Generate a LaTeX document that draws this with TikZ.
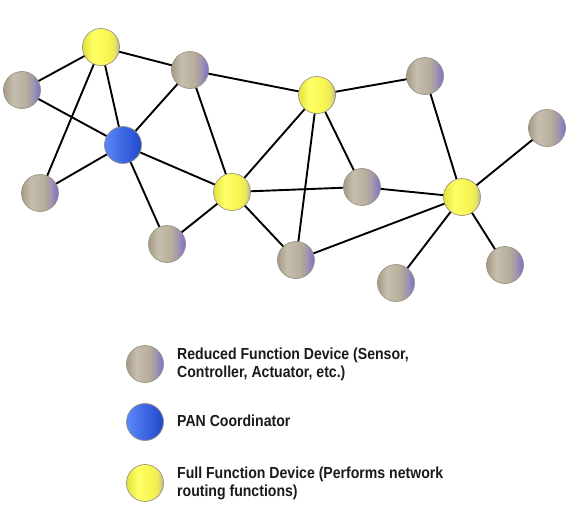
\documentclass[tikz,border=0pt]{standalone}
\usepackage{fontspec}
\newfontfamily\legendfont[FakeStretch=0.88]{Liberation Sans}
\definecolor{tanL}{HTML}{A69A86}
\definecolor{tanM}{HTML}{C6BEAE}
\definecolor{tanN}{HTML}{B8AE9C}
\definecolor{tanP}{HTML}{A096AC}
\definecolor{tanR}{HTML}{7A6CD0}
\definecolor{yelL}{HTML}{E2E23A}
\definecolor{yelM}{HTML}{FFFF66}
\definecolor{yelN}{HTML}{F6F450}
\definecolor{yelR}{HTML}{BAB290}
\definecolor{bluL}{HTML}{5A88F8}
\definecolor{bluM}{HTML}{3A68EE}
\definecolor{bluR}{HTML}{2048CC}
\definecolor{rim}{HTML}{9A9282}
\definecolor{txt}{HTML}{1A1A1A}
\pgfdeclarehorizontalshading{rfdshade}{100bp}{color(0bp)=(tanL); color(25bp)=(tanL); color(38bp)=(tanM); color(55bp)=(tanN); color(65bp)=(tanP); color(75bp)=(tanR); color(100bp)=(tanR)}
\pgfdeclarehorizontalshading{ffdshade}{100bp}{color(0bp)=(yelL); color(25bp)=(yelL); color(40bp)=(yelM); color(60bp)=(yelN); color(68bp)=(yelN!80!yelR); color(75bp)=(yelR); color(100bp)=(yelR)}
\tikzset{
  ball/.style={circle, minimum size=37pt, inner sep=0pt, draw=rim, line width=0.7pt},
  rfd/.style={ball, shading=rfdshade},
  ffd/.style={ball, shading=ffdshade},
  pan/.style={ball, shading=axis, shading angle=135, left color=bluL, middle color=bluM, right color=bluR},
  link/.style={line width=1.9pt, black},
  legtext/.style={anchor=west, align=left, text=txt, font=\legendfont\bfseries\fontsize{16}{18}\selectfont, inner sep=0pt}
}
\begin{document}
\begin{tikzpicture}[x=1pt, y=-1pt]
\useasboundingbox (0,0) rectangle (585,515);
% coordinates of nodes
\coordinate (pY1) at (101,47);
\coordinate (pG1) at (22,90);
\coordinate (pG2) at (190,70);
\coordinate (pB)  at (123,145);
\coordinate (pG3) at (40,193);
\coordinate (pY2) at (232,192);
\coordinate (pG4) at (167,244);
\coordinate (pY3) at (317,95);
\coordinate (pG5) at (425,76);
\coordinate (pG6) at (362,187);
\coordinate (pG7) at (296,260);
\coordinate (pY4) at (462,197);
\coordinate (pG8) at (547,128);
\coordinate (pG9) at (396,283);
\coordinate (pG10) at (505,265);
% links (drawn first, below balls)
\foreach \a/\b in {pY1/pG1, pY1/pG2, pY1/pB, pY1/pG3, pG1/pB, pG2/pB, pG2/pY2, pG2/pY3,
  pB/pG3, pB/pG4, pB/pY2, pG4/pY2, pY2/pY3, pY2/pG6, pY2/pG7, pY3/pG5, pY3/pG6, pY3/pG7,
  pG6/pY4, pG7/pY4, pG5/pY4, pG8/pY4, pG9/pY4, pG10/pY4}
  \draw[link] (\a) -- (\b);
% balls
\node[ffd] (Y1) at (pY1) {};
\node[rfd] (G1) at (pG1) {};
\node[rfd] (G2) at (pG2) {};
\node[pan] (B)  at (pB) {};
\node[rfd] (G3) at (pG3) {};
\node[ffd] (Y2) at (pY2) {};
\node[rfd] (G4) at (pG4) {};
\node[ffd] (Y3) at (pY3) {};
\node[rfd] (G5) at (pG5) {};
\node[rfd] (G6) at (pG6) {};
\node[rfd] (G7) at (pG7) {};
\node[ffd] (Y4) at (pY4) {};
\node[rfd] (G8) at (pG8) {};
\node[rfd] (G9) at (pG9) {};
\node[rfd] (G10) at (pG10) {};
% legend
\node[rfd] (LG) at (145,364) {};
\node[pan] (LB) at (145,422) {};
\node[ffd] (LY) at (145,483) {};
\node[legtext] (TG) at (177,364) {Reduced Function Device (Sensor,\\Controller, Actuator, etc.)};
\node[legtext] (TB) at (177,421) {PAN Coordinator};
\node[legtext] (TY) at (177,483) {Full Function Device (Performs network\\routing functions)};
\end{tikzpicture}
\end{document}
